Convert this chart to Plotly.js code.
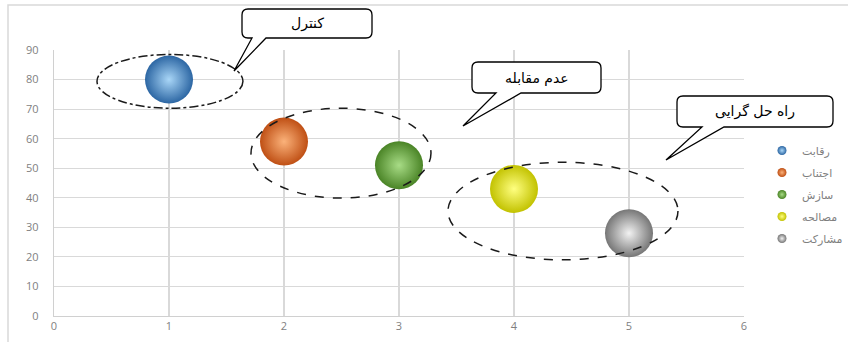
<!DOCTYPE html>
<html>
<head>
<meta charset="utf-8">
<script src="https://cdn.plot.ly/plotly-3.0.1.min.js"></script>
<style>html,body{margin:0;padding:0;background:#fff;}#chart{width:848px;height:342px;}</style>
</head>
<body>
<div id="chart"></div>
<script>
// ---- data ----
const seriesNames = ['رقابت', 'اجتناب', 'سازش', 'مصالحه', 'مشارکت'];
const xValues = [1, 2, 3, 4, 5];
const yValues = [80, 59, 51, 43, 28];
const outerColors = ['#2c66a3', '#bf4f14', '#4a8426', '#c2c200', '#767676'];
const innerColors = ['#a9d6f7', '#fbb27a', '#a8dc86', '#ffff80', '#f2f2f2'];
const xTicks = [0, 1, 2, 3, 4, 5, 6];
const yTicks = [0, 10, 20, 30, 40, 50, 60, 70, 80, 90];
const calloutTexts = ['کنترل', 'عدم مقابله', 'راه حل گرایی'];

// ---- layout helpers (pixel -> paper) ----
const L = 54, R = 744, T = 50, B = 316;
const px = x => (x - L) / (R - L);
const py = y => (B - y) / (B - T);

function calloutPath(x0, y0, x1, y1, bx0, bx1, tx, ty) {
  const r = 6;
  const P = (x, y) => px(x) + ',' + py(y);
  return 'M' + P(x0 + r, y0) + ' L' + P(x1 - r, y0) + ' Q' + P(x1, y0) + ' ' + P(x1, y0 + r) +
    ' L' + P(x1, y1 - r) + ' Q' + P(x1, y1) + ' ' + P(x1 - r, y1) +
    ' L' + P(bx1, y1) + ' L' + P(tx, ty) + ' L' + P(bx0, y1) +
    ' L' + P(x0 + r, y1) + ' Q' + P(x0, y1) + ' ' + P(x0, y1 - r) +
    ' L' + P(x0, y0 + r) + ' Q' + P(x0, y0) + ' ' + P(x0 + r, y0) + ' Z';
}

const callouts = [
  {box: [242, 9, 372, 38], base: [252, 266], tip: [234, 71]},
  {box: [472, 62, 601, 93], base: [496, 521], tip: [463, 126]},
  {box: [677, 96, 833, 127], base: [702, 724], tip: [666, 160]}
];

const traces = [];
seriesNames.forEach((name, i) => {
  traces.push({
    type: 'scatter', mode: 'markers', name: name,
    x: [xValues[i]], y: [yValues[i]],
    showlegend: false, legendgroup: 'g' + i,
    marker: {size: 48, color: outerColors[i], line: {width: 0},
             gradient: {type: 'radial', color: innerColors[i]}},
    hoverinfo: 'x+y+name'
  });
});
seriesNames.forEach((name, i) => {
  traces.push({
    type: 'scatter', mode: 'markers', name: name,
    x: [null], y: [null],
    showlegend: true, legendgroup: 'g' + i,
    marker: {size: 9, color: outerColors[i], line: {width: 0},
             gradient: {type: 'radial', color: innerColors[i]}}
  });
});

const shapes = [
  // chart-area border (only top and left visible)
  {type: 'rect', xref: 'paper', yref: 'paper', x0: px(8), y0: py(360), x1: px(870), y1: py(5),
   line: {color: '#d9d9d9', width: 1.5}, fillcolor: 'rgba(0,0,0,0)', layer: 'below'},
  // grouping ellipses
  {type: 'circle', xref: 'x', yref: 'y', x0: 0.374, x1: 1.643, y0: 70.3, y1: 88.5,
   line: {color: '#1a1a1a', width: 1.5, dash: 'dashdot'}},
  {type: 'circle', xref: 'x', yref: 'y', x0: 1.713, x1: 3.278, y0: 39.9, y1: 70.3,
   line: {color: '#1a1a1a', width: 1.5, dash: 'dash'}},
  {type: 'circle', xref: 'x', yref: 'y', x0: 3.426, x1: 5.426, y0: 19.0, y1: 52.0,
   line: {color: '#1a1a1a', width: 1.5, dash: 'dash'}}
];
const annotations = [];
callouts.forEach((c, i) => {
  shapes.push({type: 'path', xref: 'paper', yref: 'paper',
    path: calloutPath(c.box[0], c.box[1], c.box[2], c.box[3], c.base[0], c.base[1], c.tip[0], c.tip[1]),
    fillcolor: '#ffffff', line: {color: '#000000', width: 1.3}});
  annotations.push({xref: 'paper', yref: 'paper', showarrow: false,
    x: px((c.box[0] + c.box[2]) / 2), y: py((c.box[1] + c.box[3]) / 2),
    xanchor: 'center', yanchor: 'middle', text: calloutTexts[i],
    font: {family: 'DejaVu Sans, sans-serif', size: 14, color: '#000'}});
});

const layout = {
  width: 848, height: 342,
  margin: {l: L, r: 848 - R, t: T, b: 342 - B, autoexpand: false},
  paper_bgcolor: '#ffffff', plot_bgcolor: '#ffffff',
  showlegend: true,
  legend: {x: px(762), y: py(136), xanchor: 'left', yanchor: 'top', itemwidth: 30,
           font: {family: 'DejaVu Sans, sans-serif', size: 11, color: '#7f7f7f'},
           tracegroupgap: 3, bgcolor: 'rgba(0,0,0,0)'},
  xaxis: {range: [0, 6], tickvals: xTicks, ticktext: xTicks.map(String),
          showgrid: true, gridcolor: '#d9d9d9', gridwidth: 1.2, zeroline: false,
          showline: true, linecolor: '#d0d0d0', linewidth: 1.2, mirror: false,
          ticks: '', tickfont: {family: 'Open Sans, sans-serif', size: 11, color: '#7f7f7f'}},
  yaxis: {range: [0, 90], tickvals: yTicks, ticktext: yTicks.map(String),
          showgrid: true, gridcolor: '#d9d9d9', gridwidth: 1.2, zeroline: false,
          showline: true, linecolor: '#d0d0d0', linewidth: 1.2,
          ticks: '', ticklabelstandoff: 12,
          tickfont: {family: 'Open Sans, sans-serif', size: 11, color: '#7f7f7f'}},
  shapes: shapes,
  annotations: annotations
};

Plotly.newPlot('chart', traces, layout, {displayModeBar: false, staticPlot: true});
</script>
</body>
</html>
